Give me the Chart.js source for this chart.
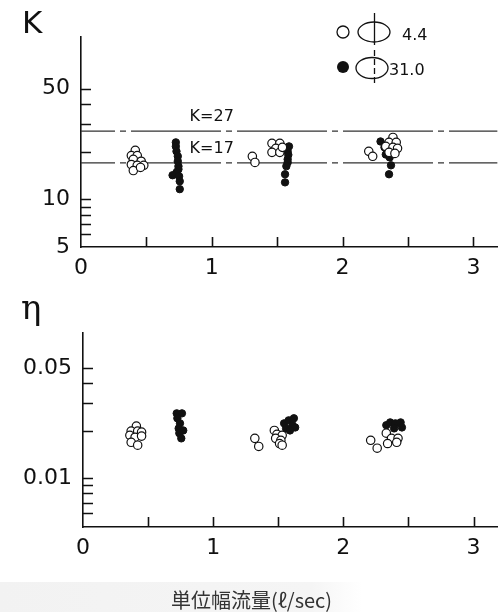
<!DOCTYPE html>
<html><head><meta charset="utf-8">
<script src="https://cdn.jsdelivr.net/npm/chart.js@4/dist/chart.umd.min.js"></script>
<style>
html,body{margin:0;padding:0;background:#fff;width:503px;height:612px;overflow:hidden}
#top{position:absolute;left:0;top:0;width:503px;height:290px}
#bot{position:absolute;left:0;top:290px;width:503px;height:322px}
#band{position:absolute;left:0;top:582px;width:503px;height:30px;background:linear-gradient(to right,#f2f2f2 0%,#f5f5f5 62%,#fff 72%)}
</style></head><body>
<div id="band"></div>
<div id="top"><canvas id="c1" width="503" height="290"></canvas></div>
<div id="bot"><canvas id="c2" width="503" height="322"></canvas></div>
<script>
// ---- data ----
const flowTicks = [0, 0.5, 1, 1.5, 2, 2.5, 3];
const flowLabels = [0, 1, 2, 3];
const kTicks = [6, 7, 8, 9, 10, 20, 30, 40, 50];
const kLabels = [5, 10, 50];
const etaTicks = [0.006, 0.007, 0.008, 0.009, 0.01, 0.02, 0.03, 0.04, 0.05];
const etaLabels = [0.01, 0.05];
const kRefLines = [27, 17];
const legendLabels = ['4.4', '31.0'];

const kOpenFlow  = [0.415,0.385,0.43,0.40,0.46,0.385,0.43,0.48,0.40,0.455, 1.31,1.33, 1.46,1.52,1.49,1.46,1.52,1.54, 2.20,2.23, 2.385,2.355,2.41,2.33,2.385,2.42,2.355,2.40];
const kOpenValue = [20.4,18.9,18.9,17.9,17.4,16.6,16.4,16.4,15.2,15.9, 18.7,17.1, 22.6,22.6,21.0,19.8,19.8,21.3, 20.1,18.7, 24.6,22.9,22.9,21.6,21.3,21.0,19.8,19.5];
const kFilledFlow  = [0.725,0.725,0.73,0.74,0.74,0.745,0.745,0.73,0.70,0.75,0.755,0.755, 1.59,1.58,1.585,1.58,1.58,1.57,1.56,1.56, 2.29,2.32,2.33,2.36,2.37,2.355];
const kFilledValue = [22.9,21.6,20.1,18.7,17.4,16.2,15.5,14.8,14.2,14.0,13.0,11.6, 21.6,20.1,19.1,17.9,17.1,16.2,14.4,12.8, 23.2,21.3,19.2,18.4,16.4,14.4];

const etaOpenFlow  = [0.41,0.37,0.42,0.45,0.36,0.40,0.45,0.37,0.42, 1.32,1.35, 1.47,1.49,1.53,1.48,1.52,1.51,1.53, 2.21,2.26, 2.33,2.37,2.42,2.34,2.41];
const etaOpenValue = [0.0214,0.0199,0.0199,0.0196,0.0187,0.0182,0.0185,0.0169,0.0162, 0.0179,0.0159, 0.0201,0.0190,0.0187,0.0179,0.0174,0.0166,0.0162, 0.0174,0.0155, 0.0193,0.0179,0.0179,0.0166,0.0169];
const etaFilledFlow  = [0.72,0.76,0.725,0.745,0.735,0.77,0.74,0.755, 1.545,1.58,1.62,1.61,1.63,1.56,1.59, 2.33,2.36,2.40,2.44,2.45,2.39];
const etaFilledValue = [0.0258,0.0258,0.0240,0.0223,0.0207,0.0201,0.0193,0.0179, 0.0223,0.0233,0.0240,0.0217,0.0210,0.0207,0.0201, 0.0217,0.0226,0.0223,0.0226,0.0210,0.0207];

// ---- helpers ----
const INK = '#111';
const pts = (xs, ys) => xs.map((x, i) => ({x, y: ys[i]}));
const openStyle = {pointRadius: 4.2, pointBackgroundColor: '#fff', pointBorderColor: INK, pointBorderWidth: 1.2, pointHoverRadius: 4.2};
const filledStyle = {pointRadius: 3.7, pointBackgroundColor: INK, pointBorderColor: INK, pointBorderWidth: 1, pointHoverRadius: 3.7};
const tickFont = {family: 'DejaVu Sans', size: 22};

const inward = {
  id: 'inward',
  afterDatasetsDraw(chart, args, o) {
    const {ctx, chartArea: a, scales: {x, y}} = chart;
    ctx.save();
    ctx.strokeStyle = INK; ctx.lineWidth = 1.6;
    ctx.beginPath();
    o.yTicks.forEach(v => { const py = Math.round(y.getPixelForValue(v)) + 0.5; ctx.moveTo(a.left, py); ctx.lineTo(a.left + 10, py); });
    o.xTicks.forEach(v => { if (v === 0) return; const px = Math.round(x.getPixelForValue(v)) + 0.5; ctx.moveTo(px, a.bottom); ctx.lineTo(px, a.bottom - 10); });
    ctx.stroke();
    ctx.restore();
  }
};

const decor = {
  id: 'decor',
  afterDraw(chart, args, o) {
    const {ctx, scales: {x, y}} = chart;
    ctx.save();
    ctx.fillStyle = INK; ctx.strokeStyle = INK;
    ctx.textBaseline = 'middle'; ctx.textAlign = 'left';
    ctx.font = o.titleFont;
    ctx.fillText(o.title, o.titleX, o.titleY);
    if (o.refLabels) {
      ctx.font = '16px "DejaVu Sans"';
      ctx.textBaseline = 'bottom';
      o.refLabels.forEach(v => ctx.fillText('K=' + v, x.getPixelForValue(0.83), y.getPixelForValue(v) - 6));
    }
    if (o.legend) {
      ctx.lineWidth = 1.3;
      ctx.beginPath(); ctx.arc(343, 32, 6, 0, Math.PI * 2); ctx.stroke();
      ctx.beginPath(); ctx.ellipse(374, 32, 16, 10, 0, 0, Math.PI * 2); ctx.stroke();
      ctx.beginPath(); ctx.moveTo(374.5, 13); ctx.lineTo(374.5, 45); ctx.stroke();
      ctx.beginPath(); ctx.arc(343, 67, 6, 0, Math.PI * 2); ctx.fill();
      ctx.beginPath(); ctx.ellipse(372, 68, 16, 10.5, 0, 0, Math.PI * 2); ctx.stroke();
      ctx.setLineDash([6, 3]);
      ctx.beginPath(); ctx.moveTo(374.5, 50); ctx.lineTo(374.5, 85); ctx.stroke();
      ctx.setLineDash([]);
      ctx.font = '16px "DejaVu Sans"'; ctx.textBaseline = 'middle';
      ctx.fillText(o.legend[0], 402, 36);
      ctx.fillText(o.legend[1], 389, 71);
    }
    ctx.restore();
  }
};

function xScale(height) {
  return {
    type: 'linear', min: 0, max: 3.185,
    afterBuildTicks: s => { s.ticks = flowTicks.map(v => ({value: v})); },
    afterFit: s => { s.height = height; },
    grid: {display: false, drawTicks: false},
    border: {display: true, color: INK, width: 1.6},
    ticks: {autoSkip: false, maxRotation: 0, padding: 8, font: tickFont, color: INK,
      callback: v => flowLabels.includes(v) ? String(v) : ''}
  };
}
function yScale(min, max, ticks, labels, width) {
  const all = [...new Set([...labels, ...ticks])].filter(v => v >= min && v <= max).sort((a, b) => a - b);
  return {
    type: 'logarithmic', min, max,
    afterBuildTicks: s => { s.ticks = all.map(v => ({value: v})); },
    afterFit: s => { s.width = width; },
    grid: {display: false, drawTicks: false},
    border: {display: true, color: INK, width: 1.6},
    ticks: {autoSkip: false, padding: 11, font: tickFont, color: INK,
      callback: v => labels.includes(v) ? String(v) : ''}
  };
}

// ---- top chart: K ----
new Chart(document.getElementById('c1'), {
  type: 'scatter',
  data: {datasets: [
    {label: 'Φ4.4', data: pts(kOpenFlow, kOpenValue), ...openStyle},
    {label: 'Φ31.0', data: pts(kFilledFlow, kFilledValue), ...filledStyle},
    ...kRefLines.map(v => ({label: 'K=' + v, data: [{x: 0, y: v}, {x: 3.185, y: v}], showLine: true,
      borderColor: '#333', borderWidth: 1.2, borderDash: [90, 5, 6, 5], borderDashOffset: 56, pointRadius: 0, pointHoverRadius: 0}))
  ]},
  options: {
    responsive: false, animation: false, devicePixelRatio: 1,
    layout: {padding: {top: 37, left: 0, right: 0, bottom: 0}},
    scales: {x: xScale(43), y: yScale(5, 106, kTicks, kLabels, 81)},
    plugins: {
      legend: {display: false}, tooltip: {enabled: false},
      inward: {xTicks: flowTicks, yTicks: kTicks},
      decor: {title: 'K', titleFont: '31px "DejaVu Sans"', titleX: 22, titleY: 25, refLabels: kRefLines, legend: legendLabels}
    }
  },
  plugins: [inward, decor]
});

// ---- bottom chart: eta ----
new Chart(document.getElementById('c2'), {
  type: 'scatter',
  data: {datasets: [
    {label: 'Φ4.4', data: pts(etaOpenFlow, etaOpenValue), ...openStyle},
    {label: 'Φ31.0', data: pts(etaFilledFlow, etaFilledValue), ...filledStyle}
  ]},
  options: {
    responsive: false, animation: false, devicePixelRatio: 1,
    layout: {padding: {top: 43, left: 0, right: 0, bottom: 0}},
    scales: {x: xScale(61), y: yScale(0.0049, 0.0835, etaTicks, etaLabels, 83)},
    plugins: {
      legend: {display: false}, tooltip: {enabled: false},
      title: {display: true, position: 'bottom', text: '単位幅流量(ℓ/sec)', color: '#333', padding: 0,
        font: {family: 'Noto Sans CJK JP', size: 20, weight: 'normal', lineHeight: 1.2}},
      inward: {xTicks: flowTicks, yTicks: etaTicks},
      decor: {title: 'η', titleFont: '34px "DejaVu Serif"', titleX: 21, titleY: 20}
    }
  },
  plugins: [inward, decor]
});
</script>
</body></html>
